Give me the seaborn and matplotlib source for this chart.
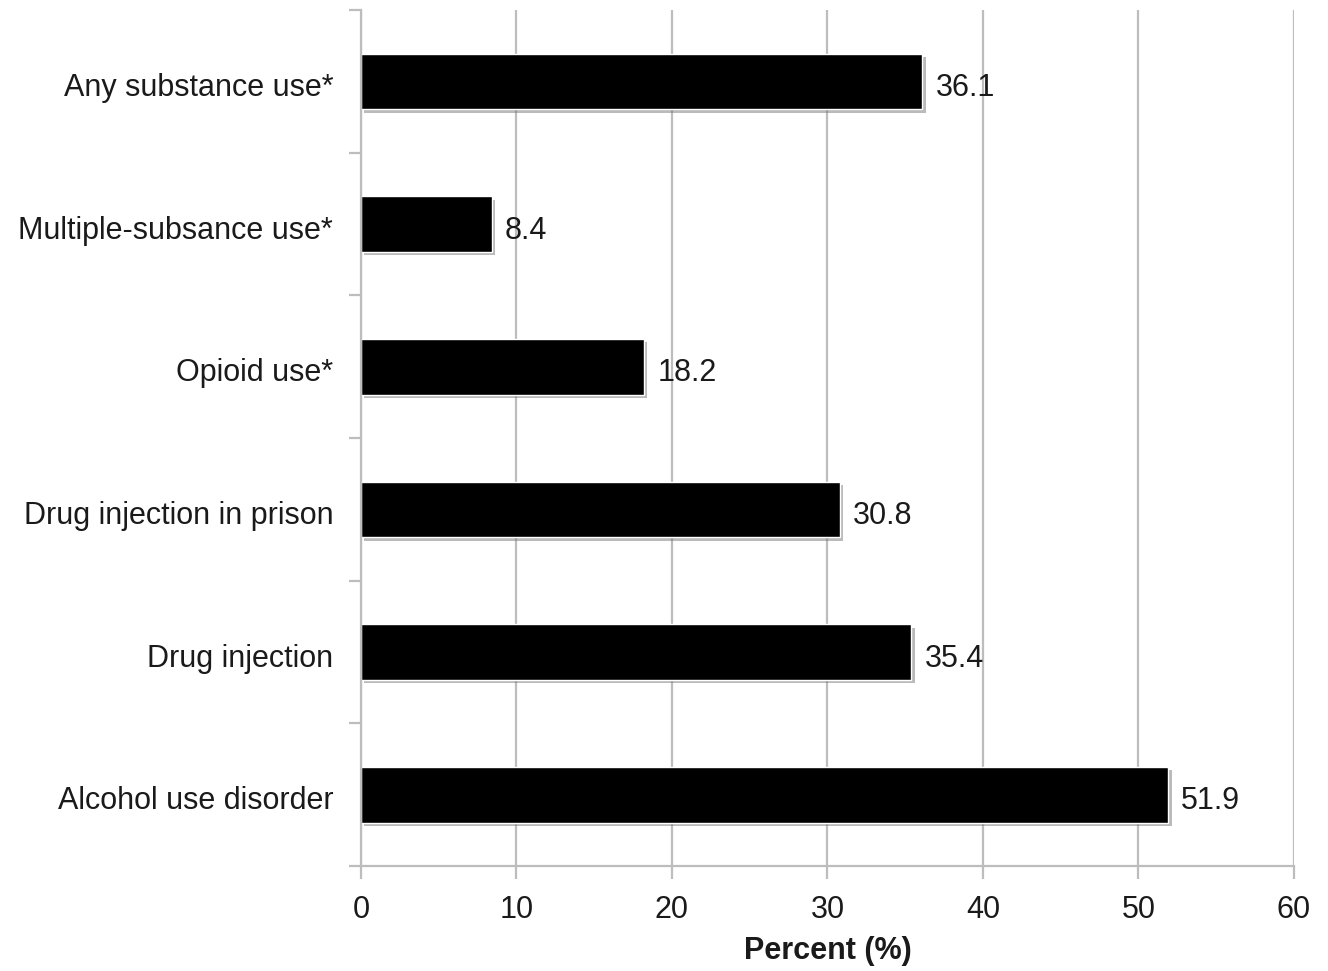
import matplotlib

matplotlib.use("Agg")
import matplotlib.pyplot as plt
import matplotlib.patheffects as pe
import matplotlib.transforms as mtransforms
import numpy as np
import seaborn as sns

CATEGORIES = [
    "Any substance use*",
    "Multiple-subsance use*",
    "Opioid use*",
    "Drug injection in prison",
    "Drug injection",
    "Alcohol use disorder",
]
PERCENTS = [36.1, 8.4, 18.2, 30.8, 35.4, 51.9]
X_TICKS = [0, 10, 20, 30, 40, 50, 60]

sns.set_theme(style="white")
plt.rcParams["font.family"] = ["Liberation Sans", "DejaVu Sans"]

GRID = "#bdbdbd"
TEXT = "#1a1a1a"
FS = 22

fig = plt.figure(figsize=(13.28, 9.71), dpi=100)
ax = fig.add_axes([0.2718, 0.1081, 0.7026, 0.8816])

ax.set_axisbelow(True)
ax.xaxis.grid(True, color=GRID, lw=1.6)

sns.barplot(x=PERCENTS, y=CATEGORIES, orient="h", color="black",
            width=0.39, saturation=1, ax=ax)
for bar in ax.patches:
    bar.set_path_effects([pe.SimplePatchShadow(offset=(2.5, -2.5), shadow_rgbFace="#777777", alpha=0.5),
                          pe.Normal()])

# small downward nudge so labels sit like the original (Excel-style) chart
shift = mtransforms.ScaledTranslation(0, -3 / 100, fig.dpi_scale_trans)
for i, v in enumerate(PERCENTS):
    ax.text(v + 0.85, i, f"{v:.1f}", va="center_baseline", ha="left", fontsize=FS,
            color=TEXT, transform=ax.transData + shift)

ax.set_xlim(0, 60)
ax.set_ylim(len(CATEGORIES) - 0.5, -0.5)
ax.set_xticks(X_TICKS)
ax.set_xticklabels([str(t) for t in X_TICKS], fontsize=FS, color=TEXT)
ax.tick_params(axis="x", length=9, width=1.6, color=GRID, direction="out", pad=12, bottom=True)
ax.tick_params(axis="y", which="major", length=0, labelsize=FS, labelcolor=TEXT, pad=20)
ax.set_yticks(np.arange(-0.5, len(CATEGORIES), 1.0), minor=True)
ax.tick_params(axis="y", which="minor", length=9, width=1.6, color=GRID, direction="out", left=True)
for lbl in ax.get_yticklabels():
    lbl.set_transform(lbl.get_transform() + shift)

for side in ("top", "right"):
    ax.spines[side].set_visible(False)
for side in ("left", "bottom"):
    ax.spines[side].set_color(GRID)
    ax.spines[side].set_linewidth(1.6)

ax.set_xlabel("Percent (%)", fontsize=FS, fontweight="bold", color=TEXT, labelpad=8)
ax.set_ylabel("")

fig.savefig("out.png", dpi=100)
